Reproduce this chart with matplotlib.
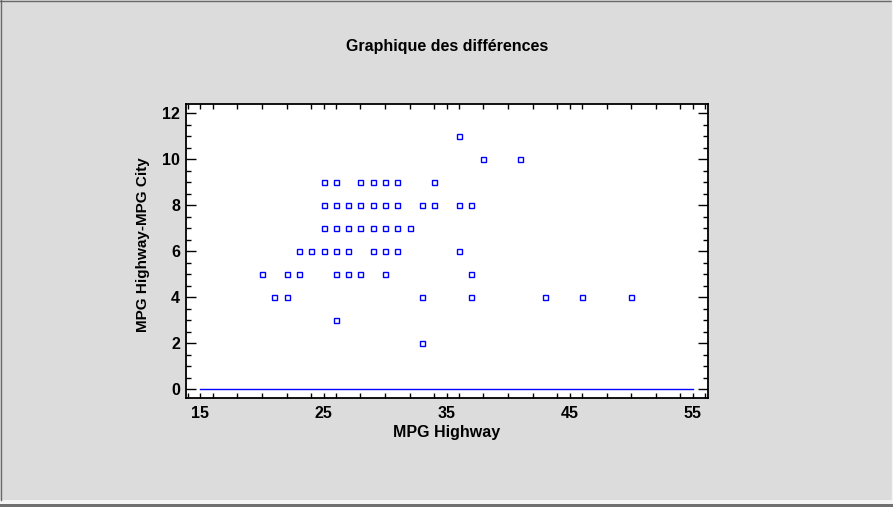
import matplotlib
matplotlib.use("Agg")
import matplotlib.pyplot as plt
from matplotlib.ticker import MultipleLocator
from matplotlib.lines import Line2D
from matplotlib.patches import Rectangle

# Data: (MPG Highway, MPG Highway - MPG City)
highway = [25, 26, 28, 29, 30, 31, 34,
           25, 26, 27, 28, 29, 30, 31, 33, 34, 36, 37,
           25, 26, 27, 28, 29, 30, 31, 32,
           23, 24, 25, 26, 27, 29, 30, 31, 36,
           20, 22, 23, 26, 27, 28, 30, 37,
           21, 22, 33, 37, 43, 46, 50,
           26, 33, 36, 38, 41]
difference = [9, 9, 9, 9, 9, 9, 9,
              8, 8, 8, 8, 8, 8, 8, 8, 8, 8, 8,
              7, 7, 7, 7, 7, 7, 7, 7,
              6, 6, 6, 6, 6, 6, 6, 6, 6,
              5, 5, 5, 5, 5, 5, 5, 5,
              4, 4, 4, 4, 4, 4, 4,
              3, 2, 11, 10, 10]
ref_x = [15, 55]
ref_y = [0, 0]
xticks = [15, 25, 35, 45, 55]
yticks = [0, 2, 4, 6, 8, 10, 12]

plt.rcParams['font.family'] = ['Liberation Sans', 'DejaVu Sans']
bg = '#dcdcdc'
fig = plt.figure(figsize=(8.93, 5.07), dpi=100, facecolor=bg)
ax = fig.add_axes([185.7/893, 109/507, (708.3-185.7)/893, (402.7-109)/507])
ax.set_facecolor('white')

ax.plot(ref_x, ref_y, color='#0000ff', lw=1.0, zorder=2)
ax.plot(highway, difference, linestyle='none', marker='s', markersize=3.6,
        markerfacecolor='none', markeredgecolor='#0000ff', markeredgewidth=1.0, zorder=3)

ax.set_xlim(13.8, 56.27)
ax.set_ylim(-0.38, 12.39)
ax.set_xticks(xticks)
ax.set_yticks(yticks)
ax.xaxis.set_minor_locator(MultipleLocator(2))
ax.yaxis.set_minor_locator(MultipleLocator(0.5))
ax.tick_params(axis='both', which='both', direction='in', top=True, right=True,
               width=1.0, color='black')
ax.tick_params(axis='x', which='major', length=3.6, pad=5.5, labelsize=11.5)
ax.tick_params(axis='x', which='minor', length=3.6)
ax.tick_params(axis='y', which='major', length=7.2, pad=4, labelsize=11.5)
ax.tick_params(axis='y', which='minor', length=3.6)
for lab in ax.get_xticklabels() + ax.get_yticklabels():
    lab.set_fontweight('bold')
for s in ax.spines.values():
    s.set_linewidth(1.3)
    s.set_color('black')

fig.text(447/893, 1 - 46/507, 'Graphique des différences', ha='center', va='center',
         fontsize=11.5, fontweight='bold')
fig.text(447/893, 1 - 433/507, 'MPG Highway', ha='center', va='center',
         fontsize=11.5, fontweight='bold')
fig.text(143/893, 1 - 245/507, 'MPG Highway-MPG City', ha='center', va='center',
         rotation=90, fontsize=11, fontweight='bold')

# window-like border
W, H = 893, 507
def hline(y, color, lw):
    fig.add_artist(Line2D([0, 1], [1 - y/H, 1 - y/H], color=color, lw=lw, transform=fig.transFigure))
def vline(x, y0, y1, color, lw):
    fig.add_artist(Line2D([x/W, x/W], [1 - y0/H, 1 - y1/H], color=color, lw=lw, transform=fig.transFigure))
hline(0.7, '#696969', 1.0)
vline(0.7, 0, 500, '#696969', 1.0)
vline(891.5, 0, 500, '#f4f4f4', 1.0)
fig.add_artist(Rectangle((0, 1 - 504/H), 1, 4/H, transform=fig.transFigure,
                         facecolor='#f4f4f4', edgecolor='none'))
fig.add_artist(Rectangle((0, 0), 1, 3/H, transform=fig.transFigure,
                         facecolor='#707070', edgecolor='none'))

fig.savefig('out.png', dpi=100, facecolor=bg)
